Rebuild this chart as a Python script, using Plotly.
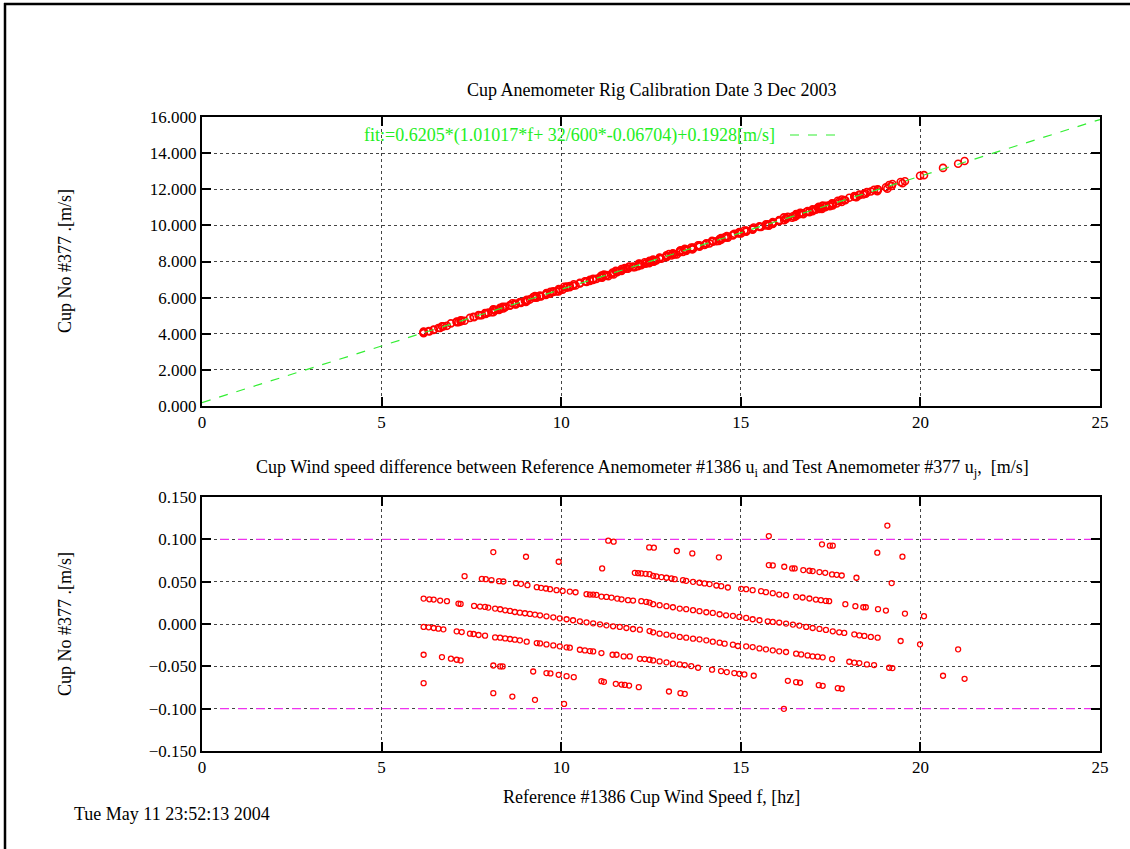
import plotly.graph_objects as go

# ---------------- data ----------------
# frequency f [hz] and speed difference [m/s] for each measured point
f_hz = [
    # upper band
    7.79, 7.90, 8.06, 8.27, 8.39, 8.74, 8.88, 9.06, 9.32, 9.44, 9.575, 9.69, 9.87, 10.04, 10.24, 10.40,
    10.705, 10.80, 10.89, 10.98, 11.12, 11.26, 11.40, 11.56, 11.68, 11.86, 12.00, 12.23, 12.37, 12.46,
    12.56, 12.74, 12.93, 13.11, 13.30, 13.48, 13.67, 13.85, 14.04, 14.22, 14.41, 14.59, 14.78, 14.96,
    15.15, 15.33, 15.52, 15.75, 15.89, 16.07, 16.26, 16.45, 16.63, 16.82, 17.00, 17.19, 17.37, 17.56,
    17.74, 17.88, 18.16, 18.30, 18.44, 18.62, 18.81, 19.45, 19.99, 21.05,
    # centre band
    6.17, 6.33, 6.45, 6.63, 6.82, 7.14, 7.20,
    7.575, 7.74, 7.88, 7.97, 8.16, 8.30, 8.44, 8.575, 8.71, 8.85, 8.99, 9.13, 9.27, 9.41, 9.59, 9.78,
    9.96, 10.15, 10.33, 10.52, 10.705, 10.89, 11.08, 11.26, 11.445, 11.63, 11.815, 12.00, 12.19, 12.46,
    12.56, 12.74, 12.93, 13.11, 13.30, 13.48, 13.67, 13.85, 14.04, 14.22, 14.41, 14.55, 14.78, 14.92,
    15.15, 15.33, 15.52, 15.70, 15.89, 16.07, 16.26, 16.54, 16.68, 16.86, 17.00, 17.14, 17.28, 17.54,
    18.02, 18.16, 18.30, 18.51, 18.71, 19.13, 19.22,
    # lower band
    6.17, 6.31, 6.45, 6.58, 6.72, 7.09, 7.23, 7.46, 7.56, 7.70, 7.88, 8.16, 8.30, 8.44, 8.575, 8.71,
    8.85, 9.04, 9.32, 9.41, 9.59, 9.78, 9.96, 10.15, 10.24, 10.52, 10.66, 10.80, 10.89, 11.12, 11.43,
    11.54, 11.74, 11.91, 12.19, 12.325, 12.46,
    12.56, 12.74, 12.93, 13.11, 13.30, 13.44, 13.62, 13.81, 14.20, 14.45, 14.61, 14.82, 14.96, 15.10, 15.36,
    # bottom band
    6.17, 6.68, 6.93, 7.09, 7.20, 8.11, 8.30, 8.37, 9.22, 9.59, 9.70, 9.93, 10.15, 10.35,
    # high band
    12.05, 12.14, 12.23, 12.35, 12.46, 12.56, 12.65, 12.79, 12.93, 13.07, 13.16, 13.39, 13.48, 13.67,
    13.85, 13.99, 14.13, 14.32, 14.455, 14.64, 15.01, 15.15, 15.33, 15.565, 15.70, 15.89, 16.07, 16.26,
    16.54, 16.72, 16.91, 17.09, 17.23, 17.37, 17.46,
    # scattered points
    6.17, 8.11, 8.64, 9.27, 10.08, 11.12, 11.19, 11.52, 11.68, 11.77, 11.89, 12.16,
    11.31, 11.46, 12.45, 8.11, 9.02, 9.93, 11.14, 7.31,
    19.08, 15.78, 12.58, 13.22, 13.65, 14.39, 17.26, 17.48, 17.56, 18.80, 19.50,
    15.78, 15.89, 16.21, 16.43, 16.50, 16.74, 16.91, 17.00, 17.19, 17.35, 17.54, 17.67, 17.81, 18.22, 19.20,
    17.91, 18.19, 18.41, 18.48, 18.82, 19.04, 19.57, 20.10,
    20.63, 21.23, 13.00, 13.32, 13.44, 16.31, 16.54, 16.65, 17.17, 17.28, 17.70, 17.81, 16.20,
]
diff_ms = [
    # upper band
    0.0533, 0.0529, 0.0518, 0.0506, 0.0502, 0.0482, 0.0474, 0.0458, 0.0435, 0.0427, 0.0419, 0.0411, 0.0399, 0.0391, 0.0383, 0.0375,
    0.0352, 0.0348, 0.0348, 0.0344, 0.0324, 0.0320, 0.0312, 0.0300, 0.0292, 0.0281, 0.0277, 0.0269, 0.0261, 0.0253,
    0.0234, 0.0222, 0.0210, 0.0198, 0.0182, 0.0175, 0.0163, 0.0151, 0.0139, 0.0131, 0.0115, 0.0103, 0.0096, 0.0084,
    0.0072, 0.0056, 0.0044, 0.0032, 0.0024, 0.0017, 0.0005, -0.0007, -0.0019, -0.0035, -0.0047, -0.0058, -0.0070, -0.0086,
    -0.0098, -0.0106, -0.0122, -0.0134, -0.0141, -0.0153, -0.0161, -0.0201, -0.0240, -0.0299,
    # centre band
    0.0300, 0.0292, 0.0289, 0.0277, 0.0269, 0.0241, 0.0237,
    0.0214, 0.0206, 0.0202, 0.0194, 0.0182, 0.0174, 0.0162, 0.0154, 0.0142, 0.0134, 0.0127, 0.0119, 0.0111, 0.0103, 0.0091, 0.0079,
    0.0067, 0.0056, 0.0044, 0.0032, 0.0020, 0.0008, -0.0004, -0.0016, -0.0027, -0.0035, -0.0047, -0.0059, -0.0067, -0.0083,
    -0.0098, -0.0114, -0.0126, -0.0137, -0.0153, -0.0161, -0.0173, -0.0181, -0.0193, -0.0209, -0.0220, -0.0232, -0.0244, -0.0260,
    -0.0264, -0.0272, -0.0288, -0.0299, -0.0311, -0.0323, -0.0331, -0.0351, -0.0359, -0.0371, -0.0382, -0.0386, -0.0394, -0.0414,
    -0.0446, -0.0457, -0.0461, -0.0477, -0.0485, -0.0517, -0.0521,
    # lower band
    -0.0035, -0.0039, -0.0047, -0.0055, -0.0063, -0.0087, -0.0095, -0.0114, -0.0118, -0.0130, -0.0138, -0.0158, -0.0162, -0.0170, -0.0177, -0.0185,
    -0.0193, -0.0209, -0.0225, -0.0229, -0.0241, -0.0253, -0.0264, -0.0276, -0.0280, -0.0304, -0.0312, -0.0320, -0.0324, -0.0343, -0.0363,
    -0.0363, -0.0383, -0.0383, -0.0411, -0.0414, -0.0422,
    -0.0430, -0.0442, -0.0453, -0.0469, -0.0477, -0.0485, -0.0497, -0.0517, -0.0540, -0.0556, -0.0568, -0.0580, -0.0588, -0.0596, -0.0611,
    # bottom band
    -0.0363, -0.0391, -0.0410, -0.0422, -0.0430, -0.0490, -0.0501, -0.0501, -0.0561, -0.0580, -0.0584, -0.0600, -0.0616, -0.0628,
    # high band
    0.0604, 0.0600, 0.0597, 0.0593, 0.0589, 0.0569, 0.0562, 0.0554, 0.0546, 0.0538, 0.0530, 0.0518, 0.0510, 0.0498,
    0.0487, 0.0479, 0.0471, 0.0455, 0.0447, 0.0431, 0.0415, 0.0411, 0.0400, 0.0388, 0.0376, 0.0364, 0.0348, 0.0340,
    0.0321, 0.0313, 0.0301, 0.0289, 0.0281, 0.0273, 0.0269,
    # scattered points
    -0.0699, -0.0817, -0.0857, -0.0896, -0.0944, -0.0675, -0.0683, -0.0707, -0.0715, -0.0719, -0.0727, -0.0746,
    0.0984, 0.0972, 0.0905, 0.0849, 0.0794, 0.0735, 0.0656, 0.0565,
    0.1162, 0.1039, 0.0901, 0.0862, 0.0834, 0.0787, 0.0941, 0.0925, 0.0925, 0.0842, 0.0795,
    0.0696, 0.0692, 0.0676, 0.0656, 0.0656, 0.0637, 0.0629, 0.0625, 0.0613, 0.0605, 0.0585, 0.0581, 0.0573, 0.0546, 0.0483,
    0.0234, 0.0210, 0.0198, 0.0198, 0.0175, 0.0159, 0.0123, 0.0092,
    -0.0611, -0.0647, -0.0797, -0.0817, -0.0825, -0.0671, -0.0687, -0.0694, -0.0722, -0.0730, -0.0758, -0.0765, -0.1002,
]

# calibration fit coefficients (from the key text)
fit_gain = 0.6205
fit_slope = 1.01017
fit_n = 32
fit_d = 600
fit_off = -0.06704
fit_const = 0.1928
fit_f_range = [0, 25]

limit_levels = [0.1, -0.1]

x_ticks = [0, 5, 10, 15, 20, 25]
y_ticks_top = [0, 2, 4, 6, 8, 10, 12, 14, 16]
y_ticks_bot = [-0.15, -0.10, -0.05, 0.0, 0.05, 0.10, 0.15]


def fit(f):
    return fit_gain * (fit_slope * f + fit_n / fit_d * fit_off) + fit_const


# test anemometer speed: reference (fit) speed minus the difference
cup_speed = [fit(f) - d for f, d in zip(f_hz, diff_ms)]
fit_x = [fit_f_range[0], fit_f_range[1]]
fit_y = [fit(v) for v in fit_x]

# ---------------- figure ----------------
W, H = 1130, 849
FONT = "Liberation Serif"


def px(x):
    return x / W


def py(y):
    return 1 - y / H


fig = go.Figure()

marker_top = dict(symbol="circle-open", size=7, color="#ff0000", line=dict(width=1.6, color="#ff0000"))
marker_bot = dict(symbol="circle-open", size=5, color="#ff0000", line=dict(width=1.3, color="#ff0000"))

fig.add_trace(go.Scatter(x=f_hz, y=cup_speed, mode="markers", marker=marker_top,
                         xaxis="x", yaxis="y", showlegend=False))
fig.add_trace(go.Scatter(x=fit_x, y=fit_y, mode="lines",
                         line=dict(color="#33ee33", width=1.2, dash="dash"),
                         xaxis="x", yaxis="y", showlegend=False))

for lv in limit_levels:
    fig.add_trace(go.Scatter(x=fit_f_range, y=[lv, lv], mode="lines",
                             line=dict(color="#ee33ee", width=1.2, dash="dash"),
                             xaxis="x2", yaxis="y2", showlegend=False))
fig.add_trace(go.Scatter(x=f_hz, y=diff_ms, mode="markers", marker=marker_bot,
                         xaxis="x2", yaxis="y2", showlegend=False))

axis_common = dict(
    showline=True, linecolor="black", linewidth=2, mirror="ticks",
    ticks="inside", ticklen=9, tickwidth=1.5, tickcolor="black",
    showgrid=True, gridcolor="#444444", griddash="dot", gridwidth=1,
    zeroline=False,
    tickfont=dict(family=FONT, size=17, color="black"),
)

x_dom = [px(202), px(1100)]
fig.update_layout(
    width=W, height=H,
    margin=dict(l=0, r=0, t=0, b=0, autoexpand=False),
    paper_bgcolor="white", plot_bgcolor="white",
    xaxis=dict(domain=x_dom, range=[0, 25], tickvals=x_ticks, anchor="y", **axis_common),
    yaxis=dict(domain=[py(406), py(117)], range=[0, 16], tickvals=y_ticks_top,
               tickformat=".3f", anchor="x", **axis_common),
    xaxis2=dict(domain=x_dom, range=[0, 25], tickvals=x_ticks, anchor="y2", **axis_common),
    yaxis2=dict(domain=[py(751), py(497)], range=[-0.15, 0.15], tickvals=y_ticks_bot,
                tickformat=".3f", anchor="x2", **axis_common),
)

txt = dict(family=FONT, size=18, color="black")
annotations = [
    dict(text="Cup Anemometer Rig Calibration Date 3 Dec 2003", x=px(651), y=py(90)),
    dict(text="Cup Wind speed difference between Reference Anemometer #1386 u<sub>i</sub> and Test Anemometer #377 u<sub>j</sub>,  [m/s]",
         x=px(642), y=py(468)),
    dict(text="Reference #1386 Cup Wind Speed f, [hz]", x=px(651), y=py(797)),
    dict(text="Cup No #377 .[m/s]", x=px(65), y=py(261), textangle=-90),
    dict(text="Cup No #377 .[m/s]", x=px(65), y=py(624), textangle=-90),
]
anns = []
for a in annotations:
    a.update(xref="paper", yref="paper", showarrow=False, font=txt,
             xanchor="center", yanchor="middle")
    anns.append(a)
anns.append(dict(text="Tue May 11 23:52:13 2004", x=px(72), y=py(814), xref="paper", yref="paper",
                 showarrow=False, font=txt, xanchor="left", yanchor="middle"))
anns.append(dict(text="fit:=0.6205*(1.01017*f+ 32/600*-0.06704)+0.1928[m/s]",
                 x=px(777), y=py(135), xref="paper", yref="paper", showarrow=False,
                 font=dict(family=FONT, size=18, color="#22ee22"), xanchor="right", yanchor="middle"))
fig.update_layout(annotations=anns)

shapes = [
    # key sample line
    dict(type="line", xref="paper", yref="paper", x0=px(790), x1=px(838), y0=py(135), y1=py(135),
         line=dict(color="#33ee33", width=1.2, dash="dash")),
    # page frame (top and left edges)
    dict(type="line", xref="paper", yref="paper", x0=px(4), x1=1, y0=py(4), y1=py(4),
         line=dict(color="black", width=2.5)),
    dict(type="line", xref="paper", yref="paper", x0=px(5), x1=px(5), y0=py(3), y1=0,
         line=dict(color="black", width=2.5)),
]
fig.update_layout(shapes=shapes)

fig.write_html("out.html")
